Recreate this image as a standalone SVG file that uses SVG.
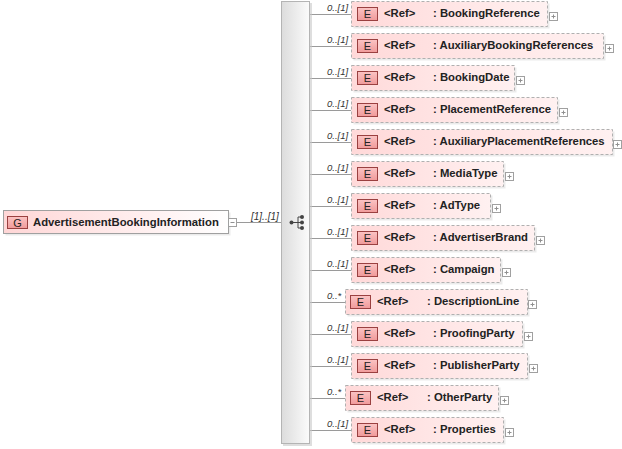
<svg xmlns="http://www.w3.org/2000/svg" width="622" height="449" viewBox="0 0 622 449">
<defs>
<linearGradient id="elFill" x1="0" y1="0" x2="1" y2="0"><stop offset="0" stop-color="#ffd9d9"/><stop offset="1" stop-color="#fff1f1"/></linearGradient>
<linearGradient id="gFill" x1="0" y1="0" x2="1" y2="0"><stop offset="0" stop-color="#ffd6d6"/><stop offset="1" stop-color="#ffffff"/></linearGradient>
<linearGradient id="iconFill" x1="0" y1="0" x2="0" y2="1"><stop offset="0" stop-color="#fbc4c4"/><stop offset="1" stop-color="#f09a9a"/></linearGradient>
<linearGradient id="seqFill" x1="0" y1="0" x2="1" y2="0"><stop offset="0" stop-color="#dcdcdc"/><stop offset="1" stop-color="#fbfbfb"/></linearGradient>
</defs>
<style>
.box{fill:url(#elFill);stroke:#b0b0b0;stroke-width:1;stroke-dasharray:3 2}
.shadow{fill:#000;opacity:0.08}
.icon{fill:url(#iconFill);stroke:#9a4040;stroke-width:1}
.ic{font-family:"Liberation Sans",Arial,sans-serif;font-size:11px;fill:#222;text-anchor:middle}
.t{font-family:"Liberation Sans",Arial,sans-serif;font-size:11.3px;font-weight:bold;fill:#222}
.card{font-family:"Liberation Sans",Arial,sans-serif;font-size:9.5px;font-style:italic;fill:#333}
.con{stroke:#9a9a9a;stroke-width:1;fill:none}
.pm{fill:#fff;stroke:#a0a0a0;stroke-width:1}
.pml{stroke:#909090;stroke-width:1}
</style>
<rect width="622" height="449" fill="#ffffff"/>

<g id="connectors">
<line class="con" x1="236" y1="222.5" x2="281" y2="222.5"/>
<text class="card" x="251" y="219.5" style="font-size:10px">[1]..[1]</text>
<line class="con" x1="310" y1="14.5" x2="351" y2="14.5"/>
<line class="con" x1="310" y1="46.5" x2="351" y2="46.5"/>
<line class="con" x1="310" y1="78.5" x2="351" y2="78.5"/>
<line class="con" x1="310" y1="110.5" x2="351" y2="110.5"/>
<line class="con" x1="310" y1="142.5" x2="351" y2="142.5"/>
<line class="con" x1="310" y1="174.5" x2="351" y2="174.5"/>
<line class="con" x1="310" y1="206.5" x2="351" y2="206.5"/>
<line class="con" x1="310" y1="238.5" x2="351" y2="238.5"/>
<line class="con" x1="310" y1="270.5" x2="351" y2="270.5"/>
<line class="con" x1="310" y1="302.5" x2="345" y2="302.5"/>
<line class="con" x1="310" y1="334.5" x2="351" y2="334.5"/>
<line class="con" x1="310" y1="366.5" x2="351" y2="366.5"/>
<line class="con" x1="310" y1="398.5" x2="345" y2="398.5"/>
<line class="con" x1="310" y1="430.5" x2="351" y2="430.5"/>
<text class="card" x="327" y="10.5">0..[1]</text>
<text class="card" x="327" y="42.5">0..[1]</text>
<text class="card" x="327" y="74.5">0..[1]</text>
<text class="card" x="327" y="106.5">0..[1]</text>
<text class="card" x="327" y="138.5">0..[1]</text>
<text class="card" x="327" y="170.5">0..[1]</text>
<text class="card" x="327" y="202.5">0..[1]</text>
<text class="card" x="327" y="234.5">0..[1]</text>
<text class="card" x="327" y="266.5">0..[1]</text>
<text class="card" x="327" y="298.5">0..*</text>
<text class="card" x="327" y="330.5">0..[1]</text>
<text class="card" x="327" y="362.5">0..[1]</text>
<text class="card" x="327" y="394.5">0..*</text>
<text class="card" x="327" y="426.5">0..[1]</text>
</g>

<g id="AdvertisementBookingInformation">
<rect x="5.5" y="212.5" width="225" height="23" class="shadow"/>
<rect x="3.5" y="210.5" width="225" height="23" fill="url(#gFill)" stroke="#a0a0a0"/>
<rect x="7.5" y="216.5" width="20" height="12" class="icon"/>
<text class="ic" x="17.5" y="226.5">G</text>
<text class="t" x="33" y="225.5">AdvertisementBookingInformation</text>
<rect x="228.5" y="218.5" width="8" height="8" class="pm"/>
<line class="pml" x1="230.5" y1="222.5" x2="234.5" y2="222.5"/>
</g>

<g id="sequence">
<rect x="283" y="3" width="29" height="443" fill="#c8c8c8" opacity="0.6"/>
<rect x="281.5" y="1.5" width="28" height="442" fill="url(#seqFill)" stroke="#b4b4b4"/>
<line x1="292" y1="222.5" x2="298" y2="222.5" stroke="#444"/>
<line x1="298" y1="217" x2="298" y2="228" stroke="#444"/>
<line x1="298" y1="217" x2="302" y2="217" stroke="#444"/>
<line x1="298" y1="228" x2="302" y2="228" stroke="#444"/>
<line x1="298" y1="222.5" x2="302" y2="222.5" stroke="#444"/>
<circle cx="291.5" cy="222.5" r="2" fill="#444"/>
<circle cx="302" cy="217" r="2" fill="#444"/>
<circle cx="302" cy="222.5" r="2" fill="#444"/>
<circle cx="302" cy="228" r="2" fill="#444"/>
</g>

<g id="BookingReference">
<rect x="353.5" y="3.5" width="196" height="25" class="shadow"/>
<rect x="351.5" y="1.5" width="196" height="25" class="box"/>
<rect x="357.5" y="7.5" width="20" height="13" class="icon"/><text class="ic" x="367.5" y="18">E</text>
<text class="t" x="384" y="17">&lt;Ref&gt;</text><text class="t" x="433" y="17">: BookingReference</text>
<rect x="549.5" y="12.5" width="8" height="8" class="pm"/><line class="pml" x1="551.5" y1="16.5" x2="555.5" y2="16.5"/><line class="pml" x1="553.5" y1="14.5" x2="553.5" y2="18.5"/>
</g>
<g id="AuxiliaryBookingReferences">
<rect x="353.5" y="35.5" width="252" height="25" class="shadow"/>
<rect x="351.5" y="33.5" width="252" height="25" class="box"/>
<rect x="357.5" y="39.5" width="20" height="13" class="icon"/><text class="ic" x="367.5" y="50">E</text>
<text class="t" x="384" y="49">&lt;Ref&gt;</text><text class="t" x="433" y="49">: AuxiliaryBookingReferences</text>
<rect x="605.5" y="44.5" width="8" height="8" class="pm"/><line class="pml" x1="607.5" y1="48.5" x2="611.5" y2="48.5"/><line class="pml" x1="609.5" y1="46.5" x2="609.5" y2="50.5"/>
</g>
<g id="BookingDate">
<rect x="353.5" y="67.5" width="163" height="25" class="shadow"/>
<rect x="351.5" y="65.5" width="163" height="25" class="box"/>
<rect x="357.5" y="71.5" width="20" height="13" class="icon"/><text class="ic" x="367.5" y="82">E</text>
<text class="t" x="384" y="81">&lt;Ref&gt;</text><text class="t" x="433" y="81">: BookingDate</text>
<rect x="516.5" y="76.5" width="8" height="8" class="pm"/><line class="pml" x1="518.5" y1="80.5" x2="522.5" y2="80.5"/><line class="pml" x1="520.5" y1="78.5" x2="520.5" y2="82.5"/>
</g>
<g id="PlacementReference">
<rect x="353.5" y="99.5" width="206" height="25" class="shadow"/>
<rect x="351.5" y="97.5" width="206" height="25" class="box"/>
<rect x="357.5" y="103.5" width="20" height="13" class="icon"/><text class="ic" x="367.5" y="114">E</text>
<text class="t" x="384" y="113">&lt;Ref&gt;</text><text class="t" x="433" y="113">: PlacementReference</text>
<rect x="559.5" y="108.5" width="8" height="8" class="pm"/><line class="pml" x1="561.5" y1="112.5" x2="565.5" y2="112.5"/><line class="pml" x1="563.5" y1="110.5" x2="563.5" y2="114.5"/>
</g>
<g id="AuxiliaryPlacementReferences">
<rect x="353.5" y="131.5" width="261" height="25" class="shadow"/>
<rect x="351.5" y="129.5" width="261" height="25" class="box"/>
<rect x="357.5" y="135.5" width="20" height="13" class="icon"/><text class="ic" x="367.5" y="146">E</text>
<text class="t" x="384" y="145">&lt;Ref&gt;</text><text class="t" x="433" y="145">: AuxiliaryPlacementReferences</text>
<rect x="613.5" y="140.5" width="8" height="8" class="pm"/><line class="pml" x1="615.5" y1="144.5" x2="619.5" y2="144.5"/><line class="pml" x1="617.5" y1="142.5" x2="617.5" y2="146.5"/>
</g>
<g id="MediaType">
<rect x="353.5" y="163.5" width="152" height="25" class="shadow"/>
<rect x="351.5" y="161.5" width="152" height="25" class="box"/>
<rect x="357.5" y="167.5" width="20" height="13" class="icon"/><text class="ic" x="367.5" y="178">E</text>
<text class="t" x="384" y="177">&lt;Ref&gt;</text><text class="t" x="433" y="177">: MediaType</text>
<rect x="505.5" y="172.5" width="8" height="8" class="pm"/><line class="pml" x1="507.5" y1="176.5" x2="511.5" y2="176.5"/><line class="pml" x1="509.5" y1="174.5" x2="509.5" y2="178.5"/>
</g>
<g id="AdType">
<rect x="353.5" y="195.5" width="139" height="25" class="shadow"/>
<rect x="351.5" y="193.5" width="139" height="25" class="box"/>
<rect x="357.5" y="199.5" width="20" height="13" class="icon"/><text class="ic" x="367.5" y="210">E</text>
<text class="t" x="384" y="209">&lt;Ref&gt;</text><text class="t" x="433" y="209">: AdType</text>
<rect x="492.5" y="204.5" width="8" height="8" class="pm"/><line class="pml" x1="494.5" y1="208.5" x2="498.5" y2="208.5"/><line class="pml" x1="496.5" y1="206.5" x2="496.5" y2="210.5"/>
</g>
<g id="AdvertiserBrand">
<rect x="353.5" y="227.5" width="183" height="25" class="shadow"/>
<rect x="351.5" y="225.5" width="183" height="25" class="box"/>
<rect x="357.5" y="231.5" width="20" height="13" class="icon"/><text class="ic" x="367.5" y="242">E</text>
<text class="t" x="384" y="241">&lt;Ref&gt;</text><text class="t" x="433" y="241">: AdvertiserBrand</text>
<rect x="536.5" y="236.5" width="8" height="8" class="pm"/><line class="pml" x1="538.5" y1="240.5" x2="542.5" y2="240.5"/><line class="pml" x1="540.5" y1="238.5" x2="540.5" y2="242.5"/>
</g>
<g id="Campaign">
<rect x="353.5" y="259.5" width="149" height="25" class="shadow"/>
<rect x="351.5" y="257.5" width="149" height="25" class="box"/>
<rect x="357.5" y="263.5" width="20" height="13" class="icon"/><text class="ic" x="367.5" y="274">E</text>
<text class="t" x="384" y="273">&lt;Ref&gt;</text><text class="t" x="433" y="273">: Campaign</text>
<rect x="502.5" y="268.5" width="8" height="8" class="pm"/><line class="pml" x1="504.5" y1="272.5" x2="508.5" y2="272.5"/><line class="pml" x1="506.5" y1="270.5" x2="506.5" y2="274.5"/>
</g>
<g id="DescriptionLine">
<rect x="347.5" y="291.5" width="182" height="25" class="shadow"/>
<rect x="345.5" y="289.5" width="182" height="25" class="box"/>
<rect x="350.5" y="295.5" width="20" height="13" class="icon"/><text class="ic" x="360.5" y="306">E</text>
<text class="t" x="377" y="305">&lt;Ref&gt;</text><text class="t" x="427" y="305">: DescriptionLine</text>
<rect x="528.5" y="300.5" width="8" height="8" class="pm"/><line class="pml" x1="530.5" y1="304.5" x2="534.5" y2="304.5"/><line class="pml" x1="532.5" y1="302.5" x2="532.5" y2="306.5"/>
</g>
<g id="ProofingParty">
<rect x="353.5" y="323.5" width="171" height="25" class="shadow"/>
<rect x="351.5" y="321.5" width="171" height="25" class="box"/>
<rect x="357.5" y="327.5" width="20" height="13" class="icon"/><text class="ic" x="367.5" y="338">E</text>
<text class="t" x="384" y="337">&lt;Ref&gt;</text><text class="t" x="433" y="337">: ProofingParty</text>
<rect x="524.5" y="332.5" width="8" height="8" class="pm"/><line class="pml" x1="526.5" y1="336.5" x2="530.5" y2="336.5"/><line class="pml" x1="528.5" y1="334.5" x2="528.5" y2="338.5"/>
</g>
<g id="PublisherParty">
<rect x="353.5" y="355.5" width="176" height="25" class="shadow"/>
<rect x="351.5" y="353.5" width="176" height="25" class="box"/>
<rect x="357.5" y="359.5" width="20" height="13" class="icon"/><text class="ic" x="367.5" y="370">E</text>
<text class="t" x="384" y="369">&lt;Ref&gt;</text><text class="t" x="433" y="369">: PublisherParty</text>
<rect x="529.5" y="364.5" width="8" height="8" class="pm"/><line class="pml" x1="531.5" y1="368.5" x2="535.5" y2="368.5"/><line class="pml" x1="533.5" y1="366.5" x2="533.5" y2="370.5"/>
</g>
<g id="OtherParty">
<rect x="347.5" y="387.5" width="153" height="25" class="shadow"/>
<rect x="345.5" y="385.5" width="153" height="25" class="box"/>
<rect x="350.5" y="391.5" width="20" height="13" class="icon"/><text class="ic" x="360.5" y="402">E</text>
<text class="t" x="377" y="401">&lt;Ref&gt;</text><text class="t" x="427" y="401">: OtherParty</text>
<rect x="500.5" y="396.5" width="8" height="8" class="pm"/><line class="pml" x1="502.5" y1="400.5" x2="506.5" y2="400.5"/><line class="pml" x1="504.5" y1="398.5" x2="504.5" y2="402.5"/>
</g>
<g id="Properties">
<rect x="353.5" y="419.5" width="152" height="25" class="shadow"/>
<rect x="351.5" y="417.5" width="152" height="25" class="box"/>
<rect x="357.5" y="423.5" width="20" height="13" class="icon"/><text class="ic" x="367.5" y="434">E</text>
<text class="t" x="384" y="433">&lt;Ref&gt;</text><text class="t" x="433" y="433">: Properties</text>
<rect x="505.5" y="428.5" width="8" height="8" class="pm"/><line class="pml" x1="507.5" y1="432.5" x2="511.5" y2="432.5"/><line class="pml" x1="509.5" y1="430.5" x2="509.5" y2="434.5"/>
</g>
</svg>
